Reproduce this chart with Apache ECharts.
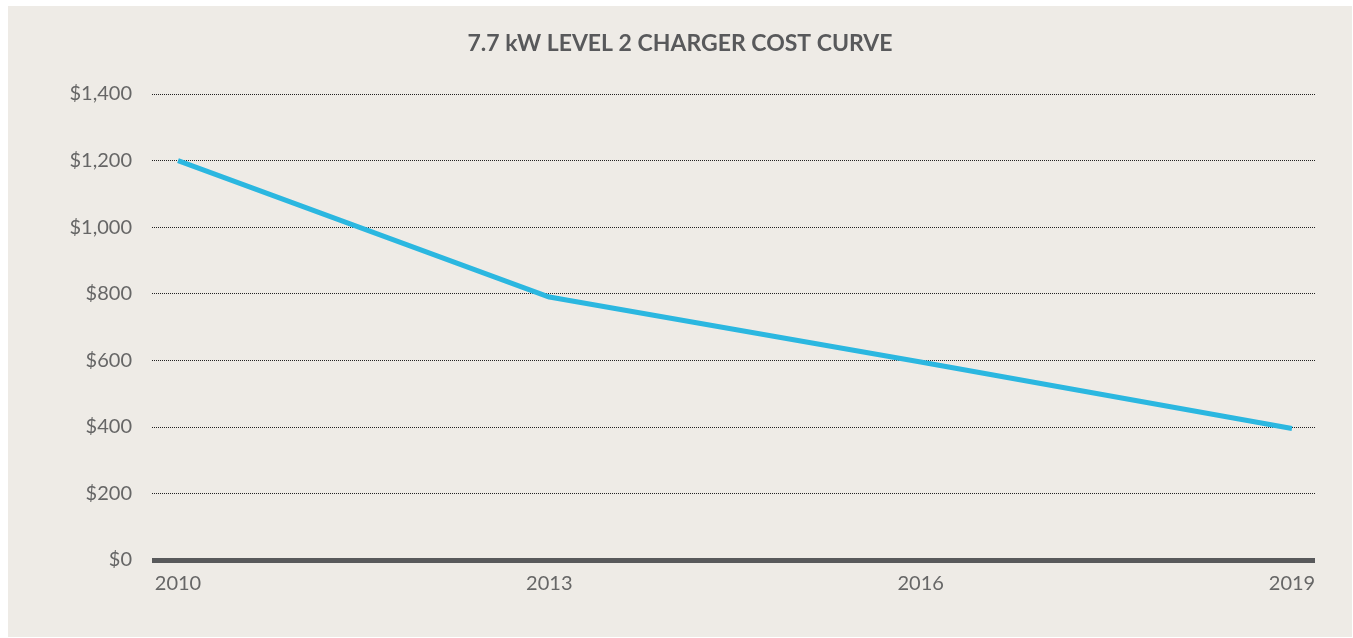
<!DOCTYPE html>
<html>
<head>
<meta charset="utf-8">
<script src="https://cdn.jsdelivr.net/npm/echarts@6/dist/echarts.min.js"></script>
<style>
  html, body { margin: 0; padding: 0; background: #fff; }
  #chart { position: absolute; left: 8px; top: 6px; width: 1344px; height: 631px; background: #eeebe6; }
</style>
</head>
<body>
<div id="chart"></div>
<script>
var years = [2010, 2013, 2016, 2019];
var cost = [1200, 790, 595, 395];
var yearLabels = [2010, 2013, 2016, 2019];

var myChart = echarts.init(document.getElementById('chart'));

var option = {
    backgroundColor: '#eeebe6',
    title: {
        text: '7.7 kW LEVEL 2 CHARGER COST CURVE',
        left: 'center',
        top: 21,
        textStyle: {
            fontFamily: 'Lato',
            fontSize: 23,
            fontWeight: 'bold',
            color: '#58595b'
        }
    },
    grid: {
        left: 144,
        right: 37,
        top: 88,
        bottom: 77
    },
    xAxis: {
        type: 'value',
        min: 2009.79,
        max: 2019.186,
        axisLine: {
            show: true,
            onZero: true,
            lineStyle: { color: '#58595b', width: 5, cap: 'butt' }
        },
        axisTick: { show: false },
        splitLine: { show: false },
        axisLabel: {
            customValues: yearLabels,
            margin: 14,
            fontFamily: 'Lato',
            fontSize: 20,
            color: '#666666',
            formatter: function (v) { return String(v); }
        }
    },
    yAxis: {
        type: 'value',
        min: 0,
        max: 1400,
        interval: 200,
        axisLine: { show: false },
        axisTick: { show: false },
        axisLabel: {
            margin: 20,
            fontFamily: 'Lato',
            fontSize: 20,
            color: '#666666',
            formatter: function (v) { return '$' + v.toLocaleString('en-US'); }
        },
        splitLine: {
            lineStyle: { type: 'dotted', color: '#222', width: 1 }
        }
    },
    series: [
        {
            type: 'line',
            data: years.map(function (y, i) { return [y, cost[i]]; }),
            symbol: 'none',
            lineStyle: { color: '#2bb7e0', width: 5 },
            z: 3
        }
    ]
};

myChart.setOption(option);
</script>
</body>
</html>
